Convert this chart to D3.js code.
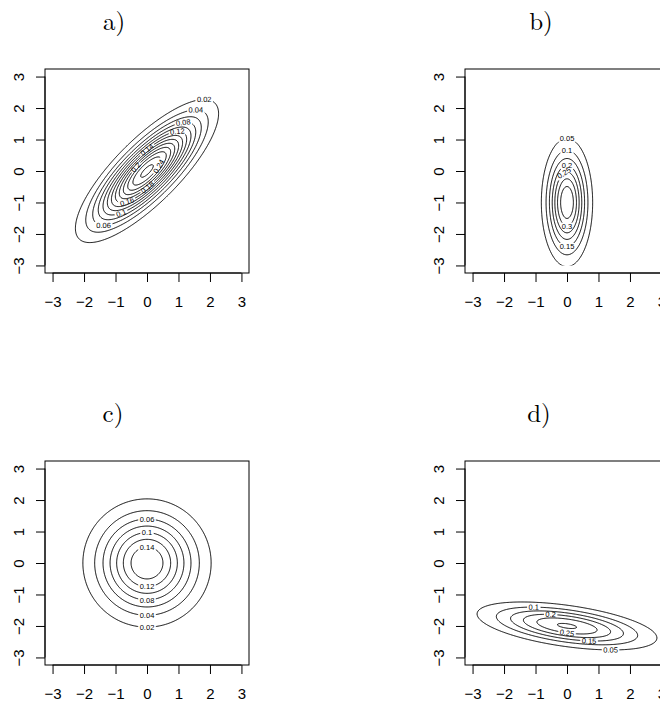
<!DOCTYPE html>
<html>
<head>
<meta charset="utf-8">
<script src="https://cdn.jsdelivr.net/npm/d3@7"></script>
<style>
  body { margin: 0; background: #fff; }
  svg { display: block; }
</style>
</head>
<body>
<div id="chart"></div>
<script>
//panel titles and the parameters of each bivariate normal density
const titles = ["a)", "b)", "c)", "d)"];
const meanX = [0, 0, 0, 0];
const meanY = [0, -1, 0, -2];
const sdX = [1, 0.4, 1, 1.5];
const sdY = [1, 1, 1, 0.4];
const rho = [0.8, 0, 0, -0.5];

//contour levels per panel
const levelsA = [0.02, 0.04, 0.06, 0.08, 0.1, 0.12, 0.14, 0.16, 0.18, 0.2, 0.22, 0.24, 0.26];
const levelsB = [0.05, 0.1, 0.15, 0.2, 0.25, 0.3, 0.35];
const levelsC = [0.02, 0.04, 0.06, 0.08, 0.1, 0.12, 0.14];
const levelsD = [0.05, 0.1, 0.15, 0.2, 0.25, 0.3];
const levels = [levelsA, levelsB, levelsC, levelsD];

//tick labels for both axes
const tickValues = [-3, -2, -1, 0, 1, 2, 3];

//which levels get a label and where on the ring (angle in degrees)
const labelSpots = [
    [[0.02, 37], [0.04, 37], [0.08, 42], [0.12, 40], [0.14, 90], [0.2, 118], [0.24, 326], [0.18, 271], [0.16, 231], [0.1, 234], [0.06, 217]],
    [[0.05, 90], [0.1, 90], [0.2, 90], [0.25, 104], [0.3, 270], [0.15, 270]],
    [[0.06, 90], [0.1, 90], [0.14, 90], [0.12, 270], [0.08, 270], [0.04, 270], [0.02, 270]],
    [[0.1, 118], [0.2, 112], [0.25, 270], [0.15, 293], [0.05, 299]]
];

//layout
const width = 660;
const height = 701;
const colLeft = [45, 465];
const rowTop = [69, 461];
const boxSize = 204;
const titlePos = [[114, 30], [541, 30], [113, 422], [539, 422]];
const tickFont = "'Liberation Sans', Arial, Helvetica, sans-serif";

const svg = d3.select("#chart")
    .append("svg")
    .attr("width", width)
    .attr("height", height);

const defs = svg.append("defs");

//grid for the density, a bit larger than the clipped region
const ext = 3.6;
const step = 0.025;
const n = Math.round(2 * ext / step) + 1;

function density(p, x, y) {
    const s = Math.sqrt(1 - rho[p] * rho[p]);
    const zx = (x - meanX[p]) / sdX[p];
    const zy = (y - meanY[p]) / sdY[p];
    const q = (zx * zx - 2 * rho[p] * zx * zy + zy * zy) / (s * s);
    return Math.exp(-q / 2) / (2 * Math.PI * sdX[p] * sdY[p] * s);
}

titles.forEach(function (title, p) {
    const col = p % 2;
    const row = Math.floor(p / 2);

    const x = d3.scaleLinear()
        .domain([-3.24, 3.24])
        .range([colLeft[col], colLeft[col] + boxSize]);

    const y = d3.scaleLinear()
        .domain([-3.24, 3.24])
        .range([rowTop[row] + boxSize, rowTop[row]]);

    const g = svg.append("g");

    //title
    g.append("text")
        .attr("x", titlePos[p][0])
        .attr("y", titlePos[p][1])
        .attr("text-anchor", "middle")
        .style("font-family", "'Latin Modern Roman', 'DejaVu Serif', serif")
        .style("font-size", "25px")
        .text(title);

    //density values on the grid
    const values = new Array(n * n);
    for (let j = 0; j < n; j++) {
        for (let i = 0; i < n; i++) {
            values[j * n + i] = density(p, -ext + i * step, -ext + j * step);
        }
    }

    const contours = d3.contours()
        .size([n, n])
        .thresholds(levels[p])(values);

    const path = d3.geoPath(d3.geoTransform({
        point: function (gx, gy) {
            this.stream.point(x(-ext + (gx - 0.5) * step), y(-ext + (gy - 0.5) * step));
        }
    }));

    //R evaluated the grid on [-3, 3] only
    const clipId = "clip" + p;
    defs.append("clipPath")
        .attr("id", clipId)
        .append("rect")
        .attr("x", x(-3))
        .attr("y", y(3))
        .attr("width", x(3) - x(-3))
        .attr("height", y(-3) - y(3));

    //label positions on the ellipse
    const s = Math.sqrt(1 - rho[p] * rho[p]);
    const peak = 1 / (2 * Math.PI * sdX[p] * sdY[p] * s);
    const labels = labelSpots[p].map(function (spot) {
        const lv = spot[0];
        const t = spot[1] * Math.PI / 180;
        const r = Math.sqrt(2 * Math.log(peak / lv));
        const px = x(meanX[p] + sdX[p] * r * Math.cos(t));
        const py = y(meanY[p] + sdY[p] * r * (rho[p] * Math.cos(t) + s * Math.sin(t)));
        const dx = x(-sdX[p] * r * Math.sin(t)) - x(0);
        const dy = y(sdY[p] * r * (-rho[p] * Math.sin(t) + s * Math.cos(t))) - y(0);
        let angle = Math.atan2(dy, dx) * 180 / Math.PI;
        if (angle > 90) angle -= 180;
        if (angle < -90) angle += 180;
        return { level: lv, x: px, y: py, angle: angle };
    });

    const labelG = g.append("g");
    labels.forEach(function (d) {
        const t = labelG.append("text")
            .attr("transform", "translate(" + d.x + "," + d.y + ") rotate(" + d.angle + ")")
            .attr("text-anchor", "middle")
            .attr("dy", "0.35em")
            .attr("fill", "black")
            .style("font-family", tickFont)
            .style("font-size", "7.5px")
            .text(String(d.level));
        d.w = t.node().getComputedTextLength();
    });

    //one mask per level so the label only breaks its own line
    const lineG = g.append("g").attr("clip-path", "url(#" + clipId + ")");
    contours.forEach(function (c, k) {
        const maskId = "mask" + p + "_" + k;
        const mask = defs.append("mask")
            .attr("id", maskId)
            .attr("maskUnits", "userSpaceOnUse")
            .attr("x", 0).attr("y", 0)
            .attr("width", width).attr("height", height);
        mask.append("rect")
            .attr("width", width)
            .attr("height", height)
            .attr("fill", "white");
        labels.filter(function (d) { return Math.abs(d.level - c.value) < 1e-9; })
            .forEach(function (d) {
                mask.append("rect")
                    .attr("transform", "translate(" + d.x + "," + d.y + ") rotate(" + d.angle + ")")
                    .attr("x", -d.w / 2 - 1.5)
                    .attr("y", -3.5)
                    .attr("width", d.w + 3)
                    .attr("height", 7)
                    .attr("fill", "black");
            });

        lineG.append("path")
            .attr("d", path(c))
            .attr("fill", "none")
            .attr("stroke", "black")
            .attr("stroke-width", 1)
            .attr("mask", "url(#" + maskId + ")");
    });

    //box
    g.append("rect")
        .attr("x", x.range()[0])
        .attr("y", y.range()[1])
        .attr("width", boxSize)
        .attr("height", boxSize)
        .attr("fill", "none")
        .attr("stroke", "black")
        .attr("stroke-width", 1);

    const fmt = d3.format("d");

    //bottom axis, line only between first and last tick like R
    const xAxis = g.append("g")
        .attr("transform", "translate(0," + y.range()[0] + ")")
        .call(d3.axisBottom(x).tickValues(tickValues).tickFormat(fmt).tickSize(9).tickSizeOuter(0));
    xAxis.select(".domain").remove();
    xAxis.append("line")
        .attr("x1", x(-3)).attr("x2", x(3))
        .attr("stroke", "black");
    xAxis.selectAll("text")
        .attr("y", 34)
        .attr("dy", 0)
        .style("font-family", tickFont)
        .style("font-size", "15px")
        .attr("fill", "black");

    //left axis with rotated labels
    const yAxis = g.append("g")
        .attr("transform", "translate(" + x.range()[0] + ",0)")
        .call(d3.axisLeft(y).tickValues(tickValues).tickFormat(fmt).tickSize(9).tickSizeOuter(0));
    yAxis.select(".domain").remove();
    yAxis.append("line")
        .attr("y1", y(-3)).attr("y2", y(3))
        .attr("stroke", "black");
    yAxis.selectAll("text")
        .attr("x", 0)
        .attr("dy", 0)
        .attr("transform", "translate(-21,0) rotate(-90)")
        .attr("text-anchor", "middle")
        .style("font-family", tickFont)
        .style("font-size", "15px")
        .attr("fill", "black");
});
</script>
</body>
</html>
